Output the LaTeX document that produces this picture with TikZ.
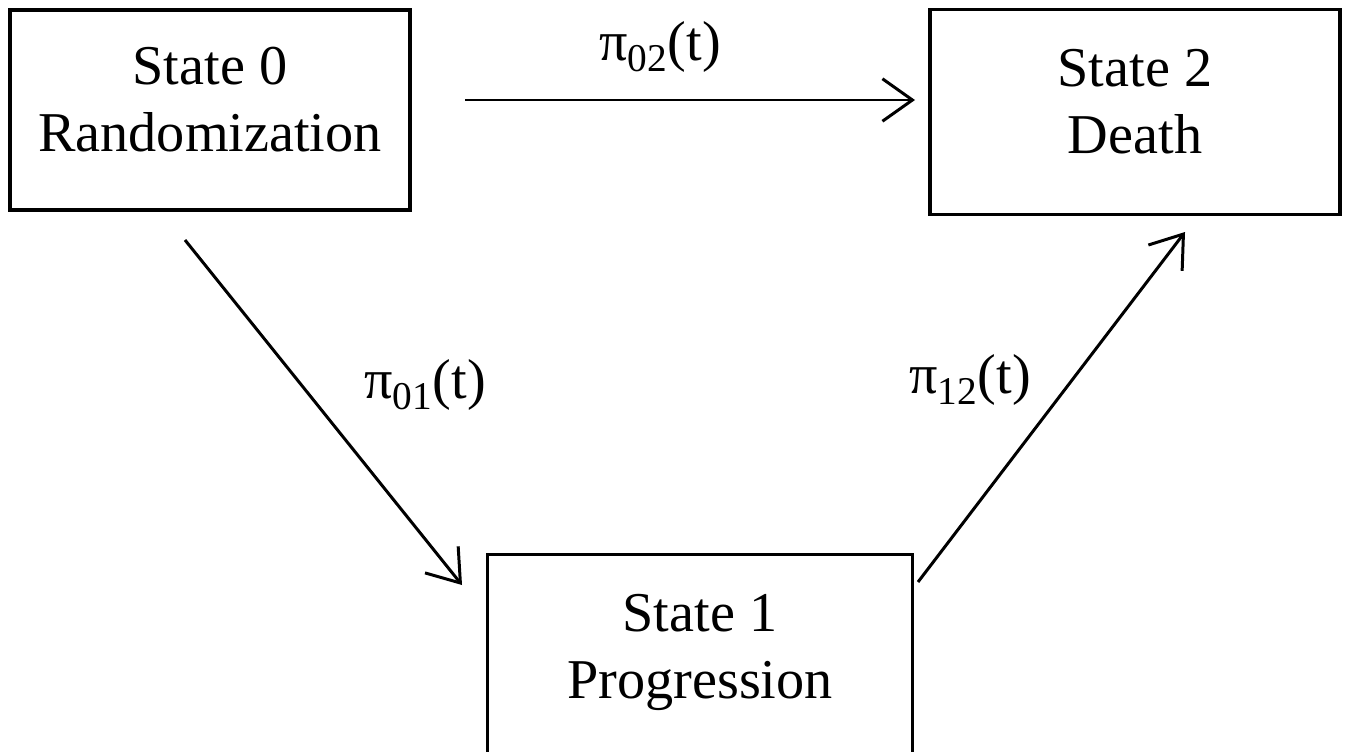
\documentclass[tikz,border=0pt]{standalone}
\usepackage{fontspec}
\setmainfont{Liberation Serif}
\usetikzlibrary{arrows.meta}
\usetikzlibrary{positioning}
\newcommand{\statetext}[1]{\raisebox{3pt}[\height][\depth]{\begin{tabular}{@{}c@{}}#1\end{tabular}}}
\tikzset{
  statebox/.style={
    draw, line width=2pt, align=center, inner sep=0pt,
    font=\fontsize{32}{38}\selectfont},
  transarrow/.style={-{Straight Barb[length=0.6cm, width=0.85cm, line width=1.7pt]},
    line width=1.7pt},
  ratelabel/.style={font=\fontsize{32}{38}\selectfont},
}
\begin{document}
\begin{tikzpicture}[x=0.02cm, y=-0.02cm]

\useasboundingbox (0, 0) rectangle (1355, 751);

% States.
\node[statebox, minimum width=8cm, minimum height=4cm] (s0) at (210, 110)
  {\statetext{State 0\\Randomization}};
\node[statebox, minimum width=8.2cm, minimum height=4.1cm] (s2) at (1135, 112)
  {\statetext{State 2\\Death}};
\node[statebox, minimum width=8.5cm, minimum height=4.1cm] (s1) at (700, 657)
  {\statetext{State 1\\Progression}};

% Arrow ends.
\coordinate (a02) at (465, 100);
\coordinate (b02) at (915, 100);
\coordinate (a01) at (185, 240);
\coordinate (b01) at (462, 585);
\coordinate (a12) at (918, 582);
\coordinate (b12) at (1185, 232);

% Transitions.
\draw[transarrow] (a02) -- (b02);
\draw[transarrow] (a01) -- (b01);
\draw[transarrow] (a12) -- (b12);

\node[ratelabel] (r02) at (660, 47) {π\textsubscript{02}(t)};
\node[ratelabel] (r01) at (425, 385) {π\textsubscript{01}(t)};
\node[ratelabel] (r12) at (970, 380) {π\textsubscript{12}(t)};

\end{tikzpicture}
\end{document}
